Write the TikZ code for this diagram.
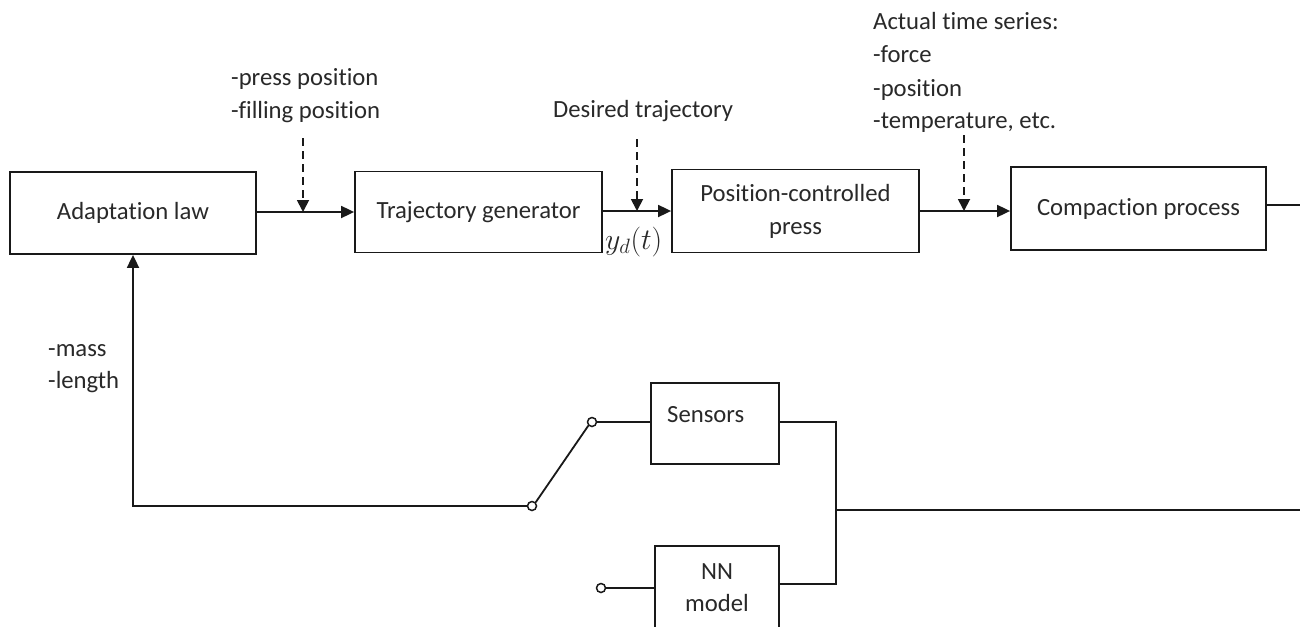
\documentclass[tikz,border=0pt]{standalone}
\usepackage{fontspec}
\setmainfont[Ligatures=NoCommon]{Carlito}
\usetikzlibrary{arrows.meta}
\definecolor{txt}{rgb}{0.16,0.16,0.16}
\definecolor{ln}{rgb}{0.1,0.1,0.1}
\begin{document}
\begin{tikzpicture}[x=1pt,y=-1pt,
  every node/.style={font=\fontsize{24.7}{33}\selectfont, text=txt},
  blk/.style={draw=ln, line width=1.8pt, rectangle, inner sep=0pt},
  lbl/.style={anchor=base west, inner sep=0pt},
  wire/.style={draw=ln, line width=1.8pt},
  arr/.style={wire, -{Triangle[length=13pt,width=12pt]}},
  darr/.style={wire, dash pattern=on 8pt off 5pt, -{Triangle[length=12pt,width=12pt]}},
  term/.style={circle, draw=ln, line width=1.5pt, fill=white, inner sep=0pt, minimum size=9pt}
]
\clip (0,0) rectangle (1300,626);
\fill[white] (0,0) rectangle (1300,626);

% blocks
\node[blk, minimum width=246pt, minimum height=82pt] (adapt) at (133,213) {Adaptation law};
\node[blk, minimum width=247pt, minimum height=81pt] (traj) at (478.5,212) {Trajectory generator};
\node[blk, minimum width=247pt, minimum height=83pt, align=center] (press) at (795.5,211) {Position-controlled\\press};
\node[blk, minimum width=255pt, minimum height=83pt] (comp) at (1138.5,208.5) {Compaction process};
\node[blk, minimum width=128pt, minimum height=81pt] (sens) at (715,423.5) {};
\node[lbl] (senst) at (667,422) {Sensors};
\node[blk, minimum width=124pt, minimum height=100pt] (nn) at (717,596) {};
\node[lbl, anchor=base] (nnt1) at (717,579) {NN};
\node[lbl, anchor=base] (nnt2) at (717,611) {model};

% labels
\node[lbl] (l1a) at (231,85) {-press position};
\node[lbl] (l1b) at (231,118) {-filling position};
\node[lbl] (l2) at (553,117) {Desired trajectory};
\node[lbl] (l3a) at (873,30) {Actual time series:};
\node[lbl] (l3b) at (873,63) {-force};
\node[lbl] (l3c) at (873,96) {-position};
\node[lbl] (l3d) at (873,128) {-temperature, etc.};
\node[lbl] (l4a) at (48,356) {-mass};
\node[lbl] (l4b) at (48,388) {-length};
\node[lbl] (yd) at (605,249) {\scalebox{1.2}{$y_d(t)$}};

% main chain
\coordinate (m1) at (256,212);
\coordinate (m2) at (602,211);
\coordinate (m3) at (919,211);
\draw[arr] (m1) -- (m1 -| traj.west);
\draw[arr] (m2) -- (m2 -| press.west);
\draw[arr] (m3) -- (m3 -| comp.west);
\coordinate (cout) at (1300,205);
\draw[wire] (comp.east |- cout) -- (cout);

% dashed inputs
\coordinate (d1) at (303,138);
\coordinate (d2) at (637,139);
\coordinate (d3) at (964,135);
\draw[darr] (d1) -- (d1 |- m1);
\draw[darr] (d2) -- (d2 |- m2);
\draw[darr] (d3) -- (d3 |- m3);

% switch and feedback
\node[term] (swl) at (532,506) {};
\node[term] (swu) at (592,422) {};
\node[term] (nin) at (601,588) {};
\draw[arr] (swl.west) -| (adapt.south);
\draw[wire] (swl.north east) -- (swu.south west);
\draw[wire] (swu.east) -- (swu.east -| sens.west);
\coordinate (jt) at (836,422);
\coordinate (jb) at (836,584);
\coordinate (jm) at (836,510);
\coordinate (jout) at (1300,510);
\draw[wire] (sens.east |- jt) -- (jt) -- (jb) -- (jb -| nn.east);
\draw[wire] (jm) -- (jout);
\draw[wire] (nin.east) -- (nin.east -| nn.west);
\end{tikzpicture}
\end{document}
